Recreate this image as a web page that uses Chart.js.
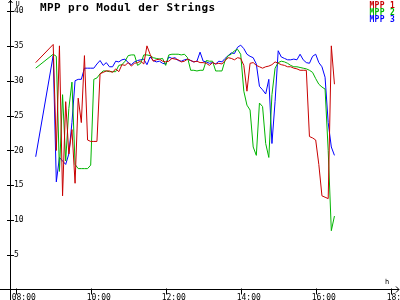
<!DOCTYPE html>
<html>
<head>
<meta charset="utf-8">
<script src="https://cdn.jsdelivr.net/npm/chart.js@4.4.1/dist/chart.umd.min.js"></script>
<style>
  html, body { margin: 0; padding: 0; background: #fff; }
  #myChart { display: block; }
</style>
</head>
<body>
<canvas id="myChart" width="400" height="300"></canvas>
<script>
// setup
const times = ['08:32',
  '09:00', '09:05', '09:10', '09:15', '09:20', '09:25', '09:30', '09:35', '09:40', '09:45', '09:50', '09:55',
  '10:00', '10:05', '10:10', '10:15', '10:20', '10:25', '10:30', '10:35', '10:40', '10:45', '10:50', '10:55',
  '11:00', '11:05', '11:10', '11:15', '11:20', '11:25', '11:30', '11:35', '11:40', '11:45', '11:50', '11:55',
  '12:00', '12:05', '12:10', '12:15', '12:20', '12:25', '12:30', '12:35', '12:40', '12:45', '12:50', '12:55',
  '13:00', '13:05', '13:10', '13:15', '13:20', '13:25', '13:30', '13:35', '13:40', '13:45', '13:50', '13:55',
  '14:00', '14:05', '14:10', '14:15', '14:20', '14:25', '14:30', '14:35', '14:40', '14:45', '14:50', '14:55',
  '15:00', '15:05', '15:10', '15:15', '15:20', '15:25', '15:30', '15:35', '15:40', '15:45', '15:50', '15:55',
  '16:00', '16:05', '16:10', '16:15', '16:20', '16:25', '16:30'];

const mpp1 = [32.6,
  35.2, 20.0, 35.0, 13.5, 27.0, 19.5, 23.0, 15.3, 27.5, 24.0, 33.6, 21.5,
  21.3, 21.3, 21.3, 31.0, 31.2, 31.4, 31.4, 31.2, 31.7, 31.3, 32.3, 32.2,
  32.6, 32.1, 32.5, 32.6, 32.8, 32.4, 35.0, 33.8, 32.8, 33.0, 33.1, 32.8,
  32.7, 32.8, 33.2, 33.1, 33.0, 32.7, 32.8, 33.1, 32.9, 32.7, 32.8, 32.6,
  32.6, 32.5, 32.2, 32.6, 32.4, 32.5, 32.4, 32.9, 33.3, 33.2, 33.0, 33.3,
  33.2, 32.2, 28.5, 32.5, 32.6, 32.2, 32.0, 31.8, 32.0, 32.1, 32.3, 32.7,
  32.5, 32.3, 32.2, 32.0, 32.0, 31.8, 31.7, 31.5, 31.5, 31.5, 22.0, 21.8,
  21.5, 18.0, 13.5, 13.3, 13.1, 35.0, 29.5];

const mpp2 = [31.8,
  33.8, 33.5, 17.0, 28.0, 18.5, 26.0, 29.8, 18.0, 17.4, 17.4, 17.4, 17.4,
  17.9, 30.2, 30.4, 31.0, 31.4, 31.4, 31.3, 31.3, 31.3, 32.2, 32.3, 32.8,
  33.6, 33.7, 33.7, 32.2, 32.5, 33.7, 33.7, 33.6, 33.3, 33.2, 33.1, 33.2,
  32.2, 33.7, 33.8, 33.8, 33.8, 33.7, 33.8, 33.3, 31.5, 31.5, 31.4, 31.5,
  31.5, 32.9, 32.8, 32.8, 31.4, 31.4, 31.4, 32.9, 33.6, 33.8, 34.3, 34.5,
  33.8, 28.5, 26.5, 25.8, 20.5, 19.3, 26.8, 26.3, 21.0, 19.0, 28.0, 31.8,
  32.6, 32.8, 32.7, 32.5, 32.2, 32.0, 32.0, 31.9, 31.8, 31.7, 31.5, 31.2,
  30.3, 29.5, 29.1, 28.8, 20.0, 8.5, 10.6];

const mpp3 = [19.1,
  33.6, 15.5, 19.0, 18.5, 18.0, 19.5, 24.0, 30.0, 30.2, 30.2, 31.8, 31.8,
  31.8, 31.8, 32.4, 32.9, 32.2, 32.6, 32.0, 32.0, 32.8, 32.7, 33.0, 33.1,
  32.6, 32.3, 32.7, 32.9, 33.0, 33.1, 32.3, 33.4, 32.9, 32.7, 32.8, 32.5,
  32.4, 33.4, 33.2, 33.3, 32.9, 32.8, 33.0, 33.1, 32.9, 32.7, 32.8, 34.1,
  32.8, 32.7, 32.5, 32.6, 32.4, 32.8, 32.7, 33.2, 33.6, 34.0, 33.9, 34.8,
  35.1, 34.6, 33.8, 33.5, 33.3, 32.4, 29.2, 28.7, 28.1, 30.2, 21.0, 27.0,
  34.3, 33.4, 33.2, 33.0, 33.0, 33.1, 33.0, 33.8, 33.0, 32.6, 32.5, 33.5,
  33.8, 32.6, 32.0, 30.5, 24.0, 20.5, 19.3];

const seriesNames = ['MPP 1', 'MPP 2', 'MPP 3'];
const seriesColors = ['#c80000', '#00b400', '#0000ff'];
const xTickLabels = ['08:00', '10:00', '12:00', '14:00', '16:00', '18:00'];
const yTickLabels = [5, 10, 15, 20, 25, 30, 35, 40];
const titleText = 'MPP pro Modul der Strings';
const yUnit = 'U';
const xUnit = 'h';

const MONO = '"DejaVu Sans Mono", "Liberation Mono", monospace';

function toHours(t) {
  const p = t.split(':');
  return +p[0] + p[1] / 60;
}

function points(values) {
  return values.map((v, i) => ({ x: toHours(times[i]), y: v }));
}

// axes with arrows, crossing ticks, title and legend text
const decorations = {
  id: 'decorations',
  afterDraw(chart) {
    const { ctx, chartArea } = chart;
    const xs = chart.scales.x, ys = chart.scales.y;
    const x0 = Math.round(chartArea.left) + 0.5;
    const y0 = Math.round(ys.getPixelForValue(0)) - 0.5;
    ctx.save();
    ctx.strokeStyle = '#000';
    ctx.lineWidth = 1;
    ctx.beginPath();
    // y axis
    ctx.moveTo(x0, chart.height);
    ctx.lineTo(x0, 0);
    ctx.moveTo(x0 - 2, 3);
    ctx.lineTo(x0, 0.5);
    ctx.lineTo(x0 + 2, 3);
    // x axis
    ctx.moveTo(0, y0);
    ctx.lineTo(chart.width - 1, y0);
    ctx.moveTo(chart.width - 4, y0 - 3);
    ctx.lineTo(chart.width - 1, y0);
    ctx.lineTo(chart.width - 4, y0 + 3);
    ys.ticks.forEach(t => {
      const py = Math.round(ys.getPixelForValue(t.value)) + 0.5;
      ctx.moveTo(x0 - 3.5, py);
      ctx.lineTo(x0 + 3.5, py);
    });
    xs.ticks.forEach(t => {
      const px = Math.round(xs.getPixelForValue(t.value)) + 0.5;
      ctx.moveTo(px, y0 - 1);
      ctx.lineTo(px, y0 + 5);
    });
    ctx.stroke();

    ctx.fillStyle = '#000';
    ctx.font = '7px ' + MONO;
    ctx.textBaseline = 'alphabetic';
    ctx.textAlign = 'left';
    ctx.fillText(yUnit, x0 + 5, 6);
    ctx.fillText(xUnit, chart.width - 15, y0 - 6);

    ctx.font = 'bold 11px ' + MONO;
    ctx.letterSpacing = '0.4px';
    ctx.fillText(titleText, 40, 11);

    ctx.font = 'bold 8px ' + MONO;
    ctx.letterSpacing = '0.3px';
    ctx.textAlign = 'right';
    chart.data.datasets.forEach((ds, i) => {
      ctx.fillStyle = ds.borderColor;
      ctx.fillText(ds.label, 395, 7.5 + i * 7.3);
    });
    ctx.restore();
  }
};

const data = {
  datasets: [
    { label: seriesNames[0], data: points(mpp1), borderColor: seriesColors[0] },
    { label: seriesNames[1], data: points(mpp2), borderColor: seriesColors[1] },
    { label: seriesNames[2], data: points(mpp3), borderColor: seriesColors[2] }
  ]
};

// config
const config = {
  type: 'line',
  data,
  options: {
    responsive: false,
    devicePixelRatio: 1,
    animation: false,
    layout: { padding: { top: 1, left: 0, right: 0, bottom: 0 } },
    elements: {
      line: { borderWidth: 1, tension: 0, fill: false },
      point: { radius: 0 }
    },
    plugins: {
      legend: { display: false },
      title: { display: false },
      tooltip: { enabled: false }
    },
    scales: {
      x: {
        type: 'linear',
        min: 7.848,
        max: 18.248,
        grid: { display: false, drawTicks: false },
        border: { display: false },
        afterBuildTicks: s => { s.ticks = xTickLabels.map(t => ({ value: toHours(t) })); },
        afterFit: s => { s.height = 10; s.paddingLeft = 0; s.paddingRight = 0; },
        ticks: {
          callback: v => xTickLabels.find(t => toHours(t) === v),
          align: 'start',
          labelOffset: -4,
          padding: 3,
          maxRotation: 0,
          autoSkip: false,
          color: '#000',
          font: { family: MONO, size: 8 }
        }
      },
      y: {
        min: 0,
        max: 41.43,
        grid: { display: false, drawTicks: false },
        border: { display: false },
        afterBuildTicks: s => { s.ticks = yTickLabels.map(v => ({ value: v })); },
        afterFit: s => { s.width = 10; s.paddingTop = 0; s.paddingBottom = 0; },
        ticks: {
          mirror: true,
          padding: 4,
          color: '#000',
          font: { family: MONO, size: 8 }
        }
      }
    }
  },
  plugins: [decorations]
};

// render init block
const myChart = new Chart(document.getElementById('myChart'), config);
</script>
</body>
</html>
